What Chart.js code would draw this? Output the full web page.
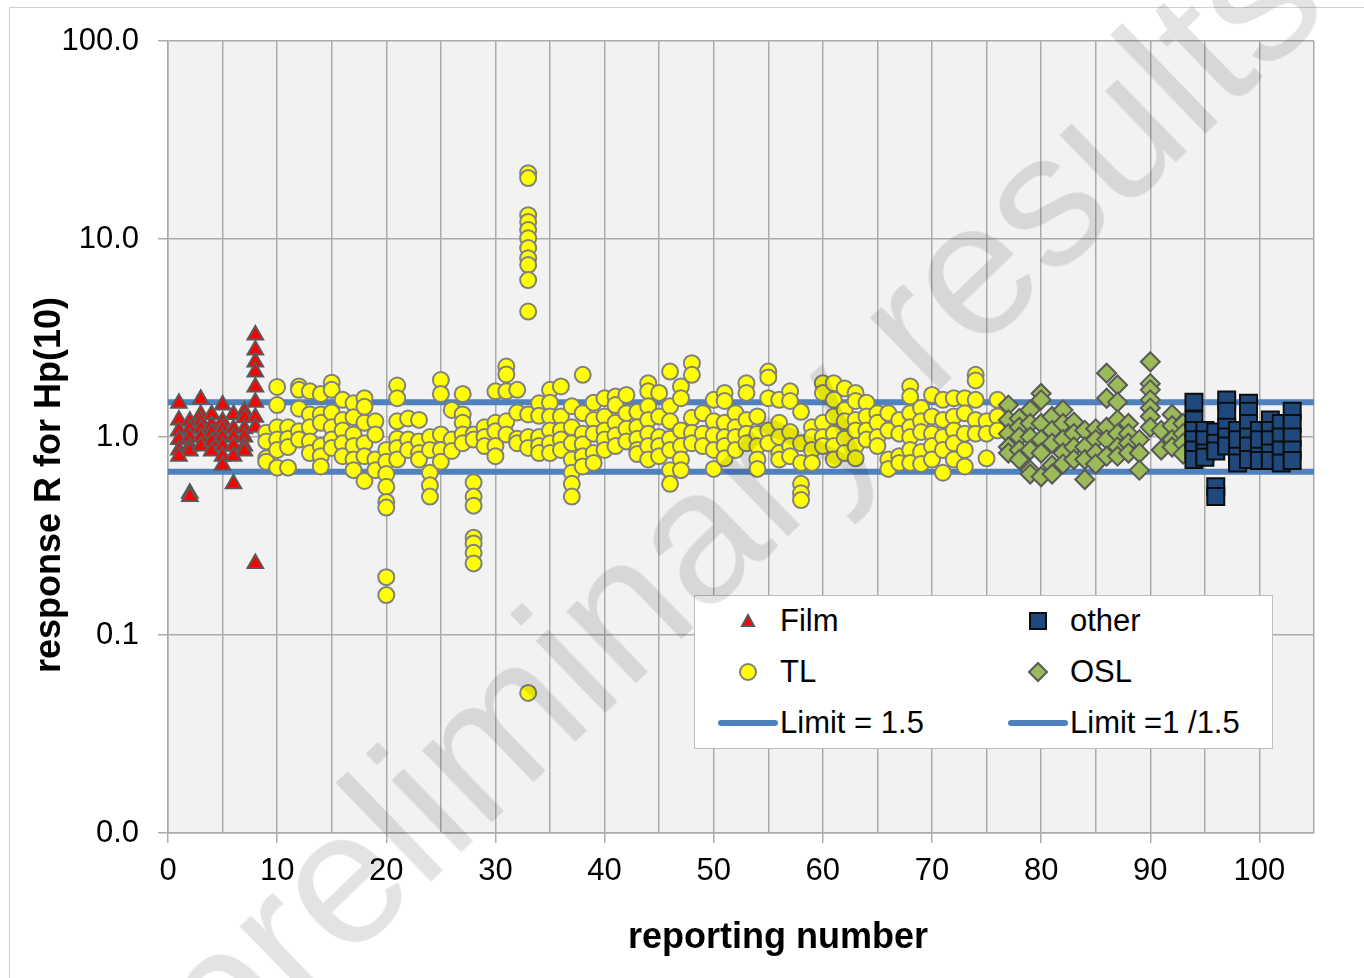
<!DOCTYPE html>
<html>
<head>
<meta charset="utf-8">
<script src="https://cdn.jsdelivr.net/npm/chart.js@4.4.0/dist/chart.umd.min.js"></script>
<style>
  html, body { margin: 0; padding: 0; background: #fff; overflow: hidden; }
  #wrap { position: relative; width: 1364px; height: 978px; overflow: hidden;
          font-family: "Liberation Sans", Arial, sans-serif; color: #000; }
  #frame { position: absolute; left: 9px; top: 7px; width: 1400px; height: 1000px; border: 1px solid #d0d0d0; }
  #chart { position: absolute; left: 0; top: 0; }
  .title { position: absolute; font-weight: bold; font-size: 36px; white-space: nowrap; text-align: center; }
  #ytitle { left: -202px; top: 464px; width: 500px; line-height: 42px; transform: rotate(-90deg); }
  #xtitle { left: 528px; top: 915px; width: 500px; line-height: 42px; }
  #legend { position: absolute; left: 694px; top: 595px; width: 577px; height: 152px;
            background: #fff; border: 1px solid #bfbfbf; }
  .lg { position: absolute; font-size: 31px; line-height: 36px; white-space: nowrap; }
  .ic { position: absolute; }
  #watermark { position: absolute; left: 224px; top: 920px; font-size: 190px; line-height: 190px;
               white-space: nowrap; color: rgba(0, 0, 0, 0.11); transform-origin: 0 161px;
               transform: rotate(-44deg); pointer-events: none; }
</style>
</head>
<body>
<div id="wrap">
  <div id="frame"></div>
  <canvas id="chart" width="1364" height="978"></canvas>
  <div class="title" id="ytitle">response R for Hp(10)</div>
  <div class="title" id="xtitle">reporting number</div>
  <div id="legend"></div>
  <div id="watermark">preliminary results</div>
</div>
<script>
// reporting numbers and response values
const filmNumbers = [1, 2, 3, 4, 5, 6, 7, 8];
const filmValues = [
  [1.48, 1.22, 1.08, 0.97, 0.86, 0.80],
  [1.20, 1.10, 1.00, 0.90, 0.85, 0.52, 0.50],
  [1.55, 1.30, 1.20, 1.10, 1.00, 0.90],
  [1.30, 1.15, 1.05, 0.95, 0.85],
  [1.45, 1.20, 1.10, 1.00, 0.90, 0.80, 0.72],
  [1.30, 1.10, 1.00, 0.90, 0.80, 0.58],
  [1.35, 1.25, 1.10, 1.00, 0.90, 0.85],
  [3.27, 2.75, 2.39, 2.13, 1.79, 1.50, 1.26, 1.12, 0.23]
];

const tlNumbers = [9, 10, 11, 12, 13, 14, 15, 16, 17, 18, 19, 20, 21, 22, 23, 24, 25, 26, 27, 28,
  29, 30, 31, 32, 33, 34, 35, 36, 37, 38, 39, 40, 41, 42, 43, 44, 45, 46, 47, 48, 49, 50, 51, 52,
  53, 54, 55, 56, 57, 58, 59, 60, 61, 62, 63, 64, 65, 66, 67, 68, 69, 70, 71, 72, 73, 74, 75, 76];
const tlValues = [
  [1.05, 0.95, 0.78, 0.75],
  [1.79, 1.45, 1.12, 0.97, 0.86, 0.70],
  [1.12, 0.98, 0.89, 0.70],
  [1.80, 1.73, 1.39, 1.07, 0.97],
  [1.70, 1.30, 1.12, 0.95, 0.83],
  [1.65, 1.30, 1.18, 0.90, 0.80, 0.71],
  [1.88, 1.73, 1.33, 1.12, 0.97, 0.88],
  [1.54, 1.22, 1.08, 0.93, 0.80],
  [1.48, 1.26, 1.03, 0.90, 0.77, 0.68],
  [1.57, 1.42, 1.18, 0.93, 0.80, 0.60],
  [1.20, 1.03, 0.77, 0.68],
  [0.86, 0.75, 0.65, 0.56, 0.47, 0.44, 0.196, 0.159],
  [1.82, 1.57, 1.20, 0.98, 0.88, 0.77],
  [1.24, 0.97, 0.86],
  [1.22, 0.95, 0.83, 0.77],
  [1.00, 0.86, 0.66, 0.57, 0.50],
  [1.94, 1.65, 1.03, 0.86, 0.75],
  [1.37, 0.97, 0.85],
  [1.65, 1.30, 1.18, 1.03, 0.93],
  [1.03, 0.97, 0.59, 0.50, 0.45, 0.31, 0.29, 0.26, 0.23],
  [1.12, 1.00, 0.90],
  [1.70, 1.18, 1.07, 0.90, 0.80],
  [2.27, 2.07, 1.70, 1.20, 1.03],
  [1.73, 1.33, 0.98, 0.93],
  [21.5, 20.3, 13.2, 12.2, 11.1, 10.1, 9.0, 8.0, 7.4, 6.2, 4.3, 1.30, 1.00, 0.88, 0.051],
  [1.48, 1.28, 1.00, 0.90, 0.83],
  [1.73, 1.49, 1.27, 1.08, 0.93, 0.83],
  [1.80, 1.27, 1.08, 0.97, 0.86],
  [1.43, 1.12, 0.93, 0.77, 0.66, 0.58, 0.50],
  [2.06, 1.32, 1.04, 0.92, 0.80, 0.71],
  [1.49, 1.22, 1.04, 0.83, 0.74],
  [1.57, 1.27, 1.08, 0.97, 0.86],
  [1.60, 1.45, 1.18, 1.02, 0.90],
  [1.63, 1.32, 1.10, 0.95],
  [1.34, 1.12, 0.98, 0.86, 0.82],
  [1.87, 1.70, 1.43, 1.22, 1.04, 0.90, 0.77],
  [1.67, 1.27, 1.00, 0.90, 0.80],
  [2.14, 1.43, 1.20, 0.98, 0.86, 0.68, 0.58],
  [1.80, 1.57, 1.08, 0.90, 0.77, 0.68],
  [2.36, 2.06, 1.25, 1.05, 0.93],
  [1.32, 1.04, 0.90],
  [1.54, 1.20, 1.02, 0.86, 0.69],
  [1.67, 1.52, 1.18, 1.00, 0.90, 0.78],
  [1.32, 1.12, 1.00, 0.86],
  [1.87, 1.67, 1.22, 1.04, 0.93],
  [1.27, 1.04, 0.90, 0.77, 0.69],
  [2.14, 2.00, 1.57, 1.08, 0.93],
  [1.54, 1.18, 1.00, 0.83, 0.77],
  [1.70, 1.52, 1.06, 0.90, 0.80],
  [1.34, 0.93, 0.74, 0.58, 0.52, 0.48],
  [1.12, 1.00, 0.86, 0.74],
  [1.87, 1.67, 1.18, 1.00, 0.90],
  [1.87, 1.54, 1.27, 1.04, 0.90, 0.77],
  [1.76, 1.37, 1.20, 0.98, 0.83],
  [1.67, 1.52, 1.22, 1.08, 0.90, 0.78],
  [1.49, 1.27, 1.08, 0.97],
  [1.32, 1.18, 1.00, 0.90],
  [1.32, 1.08, 0.77, 0.69],
  [1.22, 1.04, 0.80, 0.74],
  [1.80, 1.60, 1.32, 1.12, 1.00, 0.86, 0.74],
  [1.40, 1.20, 1.06, 0.84, 0.73],
  [1.63, 1.27, 1.04, 0.90, 0.77],
  [1.54, 1.22, 1.00, 0.86, 0.66],
  [1.57, 1.27, 1.08, 0.93, 0.77],
  [1.57, 1.32, 1.04, 0.86, 0.71],
  [2.06, 1.93, 1.54, 1.22, 1.04],
  [1.20, 1.04, 0.78],
  [1.54, 1.27, 1.08]
];

const oslNumbers = [77, 78, 79, 80, 81, 82, 83, 84, 85, 86, 87, 88, 89, 90, 91, 92, 93];
const oslValues = [
  [1.45, 1.22, 1.04, 0.89, 0.83],
  [1.24, 1.12, 1.00, 0.86, 0.77],
  [1.37, 1.17, 1.00, 0.86, 0.68, 0.65],
  [1.66, 1.54, 1.17, 0.97, 0.83, 0.63],
  [1.27, 1.08, 0.93, 0.72, 0.65],
  [1.37, 1.17, 0.97, 0.83, 0.73],
  [1.19, 1.04, 0.89, 0.77],
  [1.08, 0.89, 0.77, 0.61],
  [1.10, 0.97, 0.83, 0.73],
  [2.10, 1.57, 1.12, 0.97, 0.80],
  [1.83, 1.50, 1.22, 1.04, 0.89, 0.80],
  [1.17, 1.04, 0.93, 0.83],
  [0.97, 0.83, 0.68],
  [2.40, 1.86, 1.73, 1.54, 1.40, 1.27, 1.12],
  [1.08, 0.86],
  [1.30, 1.14, 0.97, 0.89],
  [1.17, 1.04, 0.93, 0.82]
];

const otherNumbers = [94, 95, 96, 97, 98, 99, 100, 101, 102, 103];
const otherValues = [
  [1.50, 1.22, 1.08, 0.97, 0.86, 0.77],
  [1.08, 0.97, 0.83, 0.79],
  [1.06, 0.93, 0.85, 0.56, 0.50],
  [1.54, 1.35, 1.12, 1.00, 0.90],
  [1.08, 0.97, 0.80, 0.74],
  [1.48, 1.35, 1.17, 1.00, 0.90, 0.77],
  [1.08, 0.97, 0.80, 0.76],
  [1.22, 1.08, 0.97, 0.83, 0.76],
  [1.17, 1.00, 0.86, 0.74],
  [1.35, 1.17, 1.00, 0.86, 0.76]
];

const upperLimit = 1.5;
const lowerLimit = 1 / 1.5;
const limitRange = [0, 105];
const yTicks = [0.01, 0.1, 1, 10, 100];

function toPoints(numbers, values) {
  const pts = [];
  numbers.forEach((n, i) => values[i].forEach(v => pts.push({ x: n, y: v })));
  return pts;
}

Chart.defaults.font.family = '"Liberation Sans", Arial, sans-serif';
Chart.defaults.color = '#000';

const plotBackground = {
  id: 'plotBackground',
  beforeDraw(chart) {
    const { ctx, chartArea: a } = chart;
    ctx.save();
    ctx.fillStyle = '#f2f2f2';
    ctx.fillRect(a.left, a.top, a.right - a.left, a.bottom - a.top);
    ctx.restore();
  }
};

const gridColor = '#ababab';

new Chart(document.getElementById('chart'), {
  type: 'scatter',
  data: {
    datasets: [
      {
        label: 'other',
        data: toPoints(otherNumbers, otherValues),
        pointStyle: 'rect',
        pointRadius: 12,
        backgroundColor: '#1f497d',
        borderColor: '#0d0d0d',
        borderWidth: 2
      },
      {
        label: 'OSL',
        data: toPoints(oslNumbers, oslValues),
        pointStyle: 'rectRot',
        pointRadius: 9.5,
        backgroundColor: '#9bbb59',
        borderColor: '#595959',
        borderWidth: 2
      },
      {
        label: 'TL',
        data: toPoints(tlNumbers, tlValues),
        pointStyle: 'circle',
        pointRadius: 8,
        backgroundColor: '#ffff00',
        borderColor: '#808080',
        borderWidth: 2
      },
      {
        label: 'Film',
        data: toPoints(filmNumbers, filmValues),
        pointStyle: 'triangle',
        pointRadius: 9,
        backgroundColor: '#ff0000',
        borderColor: '#595959',
        borderWidth: 2
      },
      {
        type: 'line',
        label: 'Limit = 1.5',
        data: limitRange.map(x => ({ x: x, y: upperLimit })),
        borderColor: '#4f81bd',
        borderWidth: 6,
        pointRadius: 0
      },
      {
        type: 'line',
        label: 'Limit =1 /1.5',
        data: limitRange.map(x => ({ x: x, y: lowerLimit })),
        borderColor: '#4f81bd',
        borderWidth: 6,
        pointRadius: 0
      }
    ]
  },
  options: {
    responsive: false,
    animation: false,
    events: [],
    layout: { padding: { top: 41, right: 50, left: 0, bottom: 0 } },
    plugins: { legend: { display: false }, tooltip: { enabled: false } },
    scales: {
      x: {
        type: 'linear',
        min: 0,
        max: 105,
        afterFit: s => { s.height = 145; },
        border: { color: gridColor, width: 1.5 },
        grid: {
          color: gridColor,
          lineWidth: 1.5,
          tickLength: 10,
          tickColor: ctx => (ctx.tick && ctx.tick.value % 10 === 0) ? gridColor : 'rgba(0,0,0,0)'
        },
        ticks: {
          stepSize: 5,
          autoSkip: false,
          maxRotation: 0,
          padding: 10,
          font: { size: 31 },
          callback: v => (v % 10 === 0 && v <= 100) ? String(v) : ''
        }
      },
      y: {
        type: 'logarithmic',
        min: 0.01,
        max: 100,
        afterFit: s => { s.width = 168; },
        afterBuildTicks: s => { s.ticks = yTicks.map(v => ({ value: v })); },
        border: { color: gridColor, width: 1.5 },
        grid: { color: gridColor, lineWidth: 1.5, tickLength: 10, tickColor: gridColor },
        ticks: {
          padding: 19,
          font: { size: 31 },
          callback: v => Number(v).toFixed(1)
        }
      }
    }
  },
  plugins: [plotBackground]
});

// legend built as page elements inside the plot box
const legendItems = [
  { text: 'Film', x: 780, y: 621, icon: '<svg class="ic" width="16" height="16" style="left:740px;top:613px"><polygon points="8,2 14,13 2,13" fill="#ff0000" stroke="#595959" stroke-width="2"/></svg>' },
  { text: 'other', x: 1070, y: 621, icon: '<svg class="ic" width="20" height="20" style="left:1028px;top:611px"><rect x="2" y="2" width="16" height="16" fill="#1f497d" stroke="#0d0d0d" stroke-width="2"/></svg>' },
  { text: 'TL', x: 780, y: 672, icon: '<svg class="ic" width="20" height="20" style="left:738px;top:662px"><circle cx="10" cy="10" r="8" fill="#ffff00" stroke="#808080" stroke-width="2"/></svg>' },
  { text: 'OSL', x: 1070, y: 672, icon: '<svg class="ic" width="22" height="22" style="left:1027px;top:661px"><polygon points="11,2 20,11 11,20 2,11" fill="#9bbb59" stroke="#595959" stroke-width="2"/></svg>' },
  { text: 'Limit = 1.5', x: 780, y: 723, icon: '<svg class="ic" width="60" height="10" style="left:718px;top:718px"><line x1="3" y1="5" x2="57" y2="5" stroke="#4f81bd" stroke-width="6" stroke-linecap="round"/></svg>' },
  { text: 'Limit =1 /1.5', x: 1070, y: 723, icon: '<svg class="ic" width="60" height="10" style="left:1008px;top:718px"><line x1="3" y1="5" x2="57" y2="5" stroke="#4f81bd" stroke-width="6" stroke-linecap="round"/></svg>' }
];
const wrap = document.getElementById('wrap');
let html = '';
legendItems.forEach(it => {
  html += it.icon + '<div class="lg" style="left:' + it.x + 'px;top:' + (it.y - 18) + 'px">' + it.text + '</div>';
});
const layer = document.createElement('div');
layer.innerHTML = html;
wrap.insertBefore(layer, document.getElementById('watermark'));
</script>
</body>
</html>
